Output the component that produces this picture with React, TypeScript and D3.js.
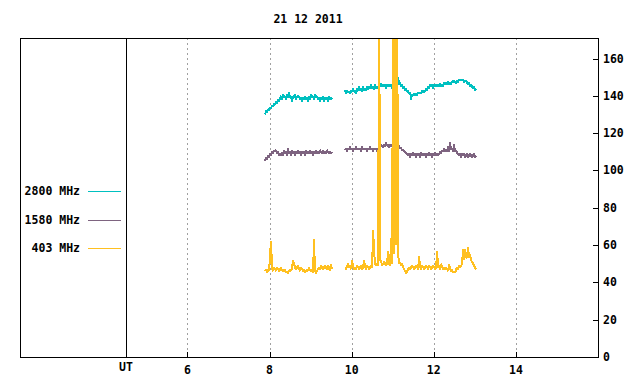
import React from 'react';
import * as d3 from 'd3';

const title = '21 12 2011';
const xTicks = [6, 8, 10, 12, 14];
const yTicks = [0, 20, 40, 60, 80, 100, 120, 140, 160];
const seriesNames = ['2800 MHz', '1580 MHz', '403 MHz'];
const seriesColors = ['#00c0c0', '#7e6480', '#ffc020'];

// observation windows (UT hours): before and after the midday gap
const segmentHours: [number, number][] = [[7.89, 9.52], [9.84, 13.03]];

const mhz2800A = [
  130, 132, 131, 133, 132, 134, 133, 135, 134, 136, 135, 137, 136, 138, 137, 139,
  140, 138, 141, 139, 140, 138, 141, 139, 142, 139, 140, 137, 140, 139, 141, 138,
  140, 139, 140, 138, 139, 137, 139, 138, 140, 138, 139, 137, 140, 138, 141, 139,
  140, 138, 141, 139, 140, 138, 139, 137, 139, 138, 140, 137, 139, 138, 139, 137,
  140, 138, 139, 138,
];
const mhz2800B = [
  143, 141, 143, 142, 142, 141, 143, 142, 144, 142, 143, 141, 144, 143, 145, 143,
  144, 142, 145, 143, 144, 143, 145, 143, 145, 144, 146, 144, 145, 143, 146, 144,
  145, 144, 146, 145,
  147, 145, 146, 145, 146, 144, 146, 145, 146, 145, 146, 144, 146, 147, 146,
  154, 148, 150,
  146, 147, 145, 146, 144, 145, 143, 144, 142, 143, 141, 142, 138, 141, 140, 141, 140,
  141, 140, 142, 141, 142, 141, 143, 142, 143, 142, 144, 143, 145, 144, 146,
  145, 146, 144, 146, 145, 146, 145, 146, 145, 147, 145, 146, 145, 147, 146, 147,
  146, 148, 146, 147, 146, 148, 147, 148, 147,
  147, 148, 147, 149, 148, 149, 148, 149, 147, 148, 148,
  147, 146, 147, 145, 146, 145, 144, 145, 143, 144,
];
const mhz1580A = [
  105, 107, 106, 108, 107, 109, 108, 110, 109, 111, 110, 111, 109, 110, 108, 109,
  108, 110, 108, 111, 109, 110, 108, 112, 109, 110, 108, 111, 109, 110, 108, 110,
  109, 111, 109, 110, 108, 110, 109, 110, 108, 111, 109, 110, 109, 111, 109, 110,
  108, 110, 109, 111, 109, 110, 109, 111, 110, 109, 111, 109, 110, 109, 111, 110,
  109, 110, 109, 110,
];
const mhz1580B = [
  111, 112, 110, 112, 111, 113, 111, 112, 110, 112, 111, 113, 111, 112, 111, 112,
  110, 113, 111, 112, 111, 112, 110, 112, 111, 113, 111, 112, 110, 112, 111, 112,
  110, 111,
  113, 112, 114, 113, 112, 114, 113, 115, 113, 114, 112, 114, 113, 114, 112, 113,
  113, 115, 120, 114,
  113, 112, 112, 111, 111, 110, 110, 109, 109,
  108, 109, 107, 109, 108, 110, 108, 109, 107, 109, 108, 109, 107, 110, 108, 109,
  108, 109, 107, 109, 108, 110, 108, 109, 107, 109, 108, 110, 108, 109, 108,
  109, 110, 109, 111, 110, 112, 110, 111, 110, 113, 110, 115, 111, 112, 110, 114,
  110, 111, 109,
  109, 108, 109, 107, 109, 108, 109, 107, 108, 109, 107, 108, 109, 108, 107, 108,
  109, 107, 108,
];
const mhz403A = [
  46, 47, 45, 47, 46, 55, 62, 47, 46, 48, 47, 46, 48, 47, 46, 47, 48, 46, 47, 46,
  47, 45, 46, 45, 46, 47, 46, 48, 52, 50, 48, 47, 48, 49, 47, 46, 48, 47, 46, 47,
  45, 46, 47, 46, 48, 46, 47, 46, 45, 63, 46, 45, 46, 47, 48, 47, 49, 48, 47, 48,
  49, 48, 47, 49, 48, 46, 50, 47,
];
const mhz403B = [
  48, 47, 49, 50, 48, 49, 47, 52, 48, 47, 48, 47, 49, 48, 47, 48, 49, 47, 48, 52,
  48, 47, 49, 48, 47, 48, 49, 48, 68, 56, 50, 49, 50, 49, 200, 52, 51, 49, 50, 51,
  50, 49, 50, 57, 50, 49, 64, 50, 200, 55, 200, 60, 200, 55, 50, 51, 49, 50, 48, 47,
  46, 45, 46, 47, 48, 47, 48, 49, 48, 47, 48, 49, 48, 47, 54, 48, 47, 49, 48, 47,
  48, 49, 48, 47, 49, 48, 47, 48, 49, 48, 47, 48, 57, 48, 49, 47, 50, 48, 47, 48,
  47, 48, 47, 46, 50, 47, 46, 47, 45, 46, 45, 47, 48, 47, 49, 48, 49, 50, 58, 52,
  58, 53, 54, 59, 53, 55, 52, 51, 50, 49, 48, 47,
];

const series = [
  [mhz2800A, mhz2800B],
  [mhz1580A, mhz1580B],
  [mhz403A, mhz403B],
];

const W = 640;
const H = 384;
const left = 20;
const right = 598;
const top = 38;
const bottom = 357;
const font = '"DejaVu Sans Mono", monospace';

export default function App() {
  const x = d3.scaleLinear().domain([1.92, 16]).range([left, right]);
  const y = d3.scaleLinear().domain([0, 171]).range([bottom, top]);

  const line = d3
    .line<[number, number]>()
    .x((d) => x(d[0]))
    .y((d) => y(d[1]));

  const toPoints = (vals: number[], seg: number) => {
    const [t0, t1] = segmentHours[seg];
    const step = (t1 - t0) / (vals.length - 1);
    return vals.map((v, i) => [t0 + i * step, v] as [number, number]);
  };

  return (
    <div style={{ position: 'fixed', left: 0, top: 0 }}>
      <svg width={W} height={H} style={{ display: 'block', background: '#fff' }}>
        <defs>
          <clipPath id="plot">
            <rect x={left} y={top} width={right - left} height={bottom - top} />
          </clipPath>
        </defs>

        {xTicks.map((t) => (
          <line
            key={'g' + t}
            x1={Math.round(x(t)) + 0.5}
            x2={Math.round(x(t)) + 0.5}
            y1={top}
            y2={bottom}
            stroke="#a0a0a0"
            strokeDasharray="2,3"
            shapeRendering="crispEdges"
          />
        ))}

        <g clipPath="url(#plot)">
          {series.map((segs, si) =>
            segs.map((vals, gi) => (
              <path
                key={si + '-' + gi}
                d={line(toPoints(vals, gi)) || ''}
                fill="none"
                stroke={seriesColors[si]}
                strokeWidth={2}
                strokeLinejoin="miter"
                strokeMiterlimit={1}
                shapeRendering="crispEdges"
              />
            ))
          )}
        </g>

        <rect
          x={left + 0.5}
          y={top + 0.5}
          width={right - left}
          height={bottom - top}
          fill="none"
          stroke="#000"
          shapeRendering="crispEdges"
        />
        <line
          x1={Math.round(x(4.5)) + 0.5}
          x2={Math.round(x(4.5)) + 0.5}
          y1={top}
          y2={bottom}
          stroke="#000"
          shapeRendering="crispEdges"
        />

        {xTicks.map((t) => (
          <g key={'x' + t}>
            <line
              x1={Math.round(x(t)) + 0.5}
              x2={Math.round(x(t)) + 0.5}
              y1={bottom}
              y2={bottom - 5}
              stroke="#000"
              shapeRendering="crispEdges"
            />
            <text
              x={x(t)}
              y={374}
              textAnchor="middle"
              fontFamily={font}
              fontWeight="bold"
              fontSize={11.5}
            >
              {t}
            </text>
          </g>
        ))}
        <text
          x={x(4.5)}
          y={371}
          textAnchor="middle"
          fontFamily={font}
          fontWeight="bold"
          fontSize={11.5}
        >
          UT
        </text>

        {yTicks.map((t) => (
          <g key={'y' + t}>
            <line
              x1={right}
              x2={right - 5}
              y1={Math.round(y(t)) + 0.5}
              y2={Math.round(y(t)) + 0.5}
              stroke="#000"
              shapeRendering="crispEdges"
            />
            <text
              x={603}
              y={y(t) + 4}
              fontFamily={font}
              fontWeight="bold"
              fontSize={11.5}
            >
              {t}
            </text>
          </g>
        ))}

        {seriesNames.map((name, i) => {
          const ly = 191 + i * 28.5;
          return (
            <g key={name}>
              <text
                x={80}
                y={ly + 4}
                textAnchor="end"
                fontFamily={font}
                fontWeight="bold"
                fontSize={11.5}
              >
                {name}
              </text>
              <line
                x1={88}
                x2={121}
                y1={Math.round(ly) + 0.5}
                y2={Math.round(ly) + 0.5}
                stroke={seriesColors[i]}
                shapeRendering="crispEdges"
              />
            </g>
          );
        })}

        <text
          x={308}
          y={23}
          textAnchor="middle"
          fontFamily={font}
          fontWeight="bold"
          fontSize={11.5}
        >
          {title}
        </text>
      </svg>
    </div>
  );
}
